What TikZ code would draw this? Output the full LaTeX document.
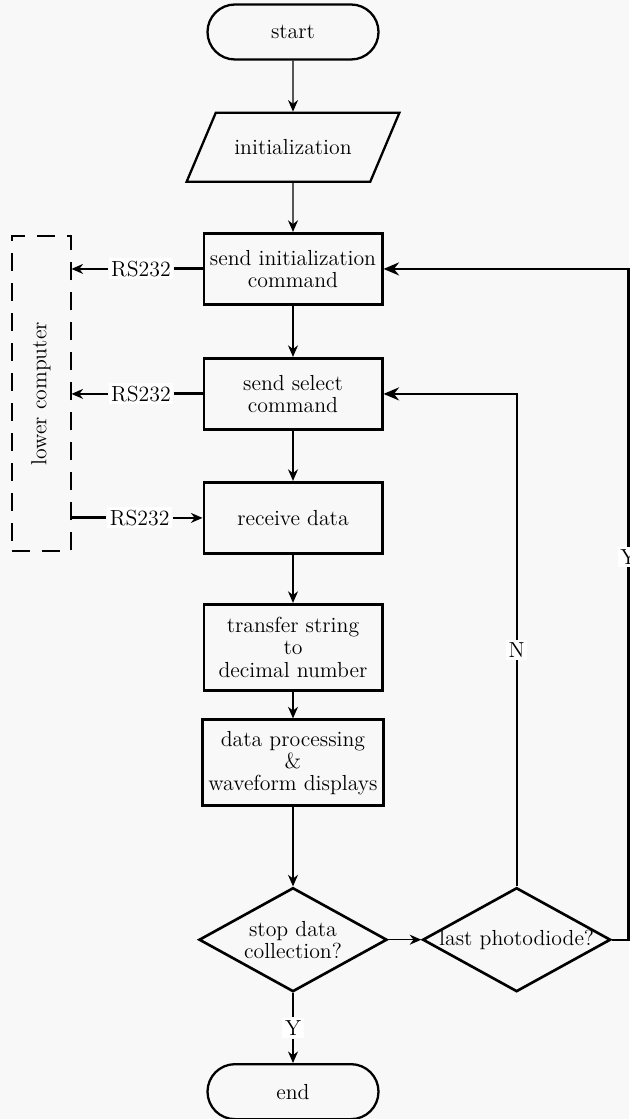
\documentclass[tikz,border=0pt]{standalone}
\usepackage{tikz}
\usetikzlibrary{arrows.meta,shapes.geometric,positioning}
\definecolor{paper}{RGB}{248,248,248}

\begin{document}
\begin{tikzpicture}
    [node distance=1cm, line width=0.8pt, font=\fontsize{12.4}{12.6}\selectfont,
    terminal/.style={rectangle, rounded corners=0.55cm, minimum width=3.42cm, minimum height=1.1cm, text centered, draw=black, line width=1.3pt},
    io/.style={trapezium, trapezium left angle=48, trapezium right angle=132, trapezium stretches=true, minimum width=4.26cm, minimum height=1.38cm, draw=black, line width=1.3pt},
    process/.style={rectangle, minimum width=3.56cm, minimum height=1.42cm, text centered, align=center, draw=black, line width=1.7pt},
    decision/.style={diamond, minimum width=3.76cm, minimum height=2.08cm, inner sep=0pt, draw=black, line width=1.5pt},
    tag/.style={fill=white, inner sep=1.5pt}]
    \fill[paper] (0,0) rectangle (12.58,-22.38);
    \useasboundingbox (0,0) rectangle (12.58,-22.38);

    \node (start) [terminal] at (5.86,-0.64) {start};
    \node (init) [io, below=1.02cm of start] {initialization};
    \draw[-{Stealth[width=2mm]}] (start) -- (init);

    \node (send-init) [process, below=0.98cm of init] {send initialization\\command};
    \draw[-{Stealth[width=2mm]}] (init) -- (send-init);
    \node (send-select) [process, below=1.02cm of send-init] {send select\\command};
    \draw[-{Stealth[width=2mm]}] (send-init) -- (send-select);
    \node (receive) [process, below=1cm of send-select] {receive data};
    \draw[-{Stealth[width=2mm]}] (send-select) -- (receive);
    \node (transfer) [process, below=0.96cm of receive, minimum height=1.72cm] {transfer string\\to\\decimal number};
    \draw[-{Stealth[width=2mm]}] (receive) -- (transfer);
    \node (processing) [process, below=0.53cm of transfer, minimum height=1.72cm] {data processing\\\&\\waveform displays};
    \draw[-{Stealth[width=2mm]}] (transfer) -- (processing);

    \node (stop-collect) [decision, below=1.58cm of processing, label={[align=center]center:stop data\\collection?}] {};
    \draw[-{Stealth[width=2mm]}] (processing) -- (stop-collect);
    \node (last-diode) [decision, right=0.66cm of stop-collect, label=center:last photodiode?] {};
    \draw[-{Stealth[width=2mm]}] (stop-collect) -- (last-diode);

    \node (finish) [terminal, below=1.4cm of stop-collect] {end};
    \path (stop-collect.south) -- node[tag] (yes-stop) {Y} (finish.north);
    \draw[line width=1.7pt] (stop-collect.south) -- (yes-stop);
    \draw[-{Stealth[width=2mm]}] (yes-stop) -- (finish);

    % loops back from the last photodiode check
    \draw[line width=1.3pt, -{Stealth[width=2.6mm]}] (last-diode.north) |- node[tag, pos=0.24] {N} (send-select.east);
    \coordinate (loop-edge) at ([xshift=0.33cm]last-diode.east);
    \draw[line width=1.3pt, -{Stealth[width=2.6mm]}] (last-diode.east) -- (loop-edge) |- node[tag, pos=0.285] {Y} (send-init.east);

    % serial link to the lower computer
    \node (lower-pc) [draw=black, dash pattern=on 0.36cm off 0.24cm, line width=1.1pt, minimum width=1.18cm, minimum height=6.3cm, left=2.62cm of send-select, label={[rotate=90]center:lower computer}] {};

    \path (send-init.west) -- node[tag, pos=0.47] (rs-out1) {RS232} (lower-pc.east |- send-init.west);
    \draw[line width=1.7pt] (send-init.west) -- (rs-out1);
    \draw[-{Stealth[width=2mm]}] (rs-out1) -- (lower-pc.east |- send-init.west);

    \path (send-select.west) -- node[tag, pos=0.47] (rs-out2) {RS232} (lower-pc.east |- send-select.west);
    \draw[line width=1.7pt] (send-select.west) -- (rs-out2);
    \draw[-{Stealth[width=2mm]}] (rs-out2) -- (lower-pc.east |- send-select.west);

    \path (lower-pc.east |- receive.west) -- node[tag, pos=0.52] (rs-in) {RS232} (receive.west);
    \draw[line width=1.7pt] (lower-pc.east |- receive.west) -- (rs-in);
    \draw[-{Stealth[width=2mm]}] (rs-in) -- (receive.west);

\end{tikzpicture}
\end{document}
